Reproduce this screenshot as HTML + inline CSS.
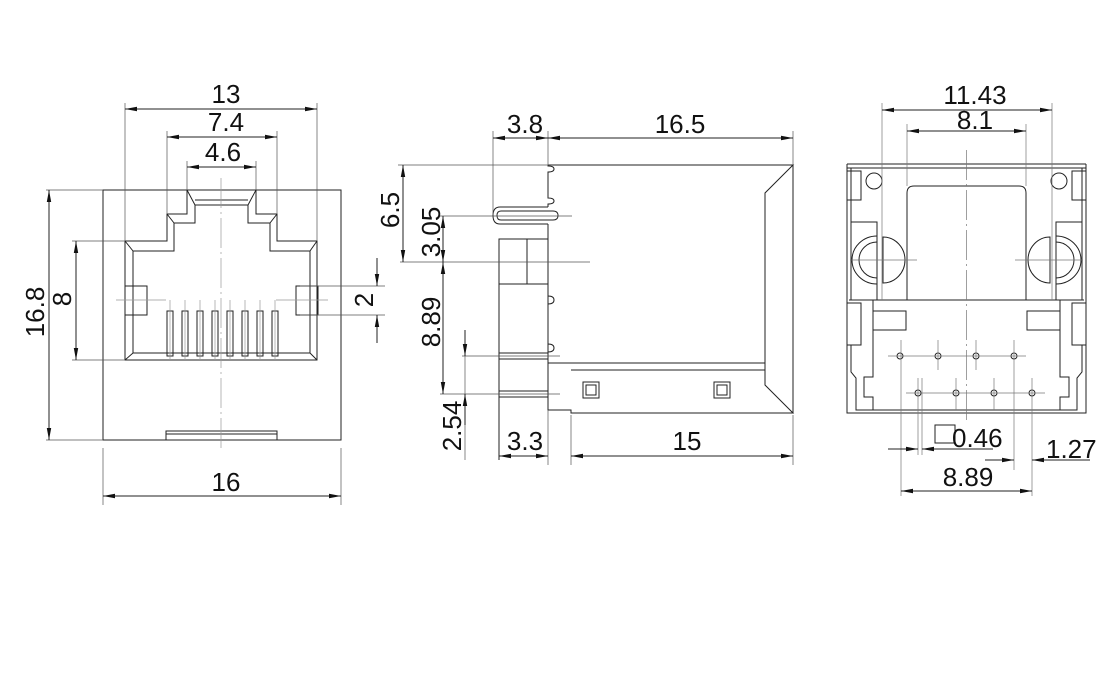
<!DOCTYPE html>
<html><head><meta charset="utf-8"><style>
html,body{margin:0;padding:0;background:#fff;}
svg{display:block;}
text{font-family:"Liberation Sans",sans-serif;font-size:26px;fill:#111;}
</style></head><body>
<svg width="1120" height="688" viewBox="0 0 1120 688" xmlns="http://www.w3.org/2000/svg">
<defs>
<marker id="a" viewBox="0 0 12 6" refX="12" refY="3" markerWidth="12" markerHeight="6" orient="auto-start-reverse" markerUnits="userSpaceOnUse"><path d="M0,0.8 L12,3 L0,5.2 z" fill="#111"/></marker>
</defs>
<g fill="none" stroke="#222" stroke-width="1">
<rect x="103" y="190" width="238" height="250"/>
<path d="M125,241 H167 V214 H187 V190 H256 V214 H277 V241 H317 V360 H125 Z"/>
<path d="M133,251 H174 V223 H195 V205 H248 V223 H270 V251 H310 V353 H133 Z"/>
<path d="M125,241 L133,251 M167,214 L174,223 M187,190 L195,205 M256,190 L248,205 M277,214 L270,223 M317,241 L310,251 M317,360 L310,353 M125,360 L133,353"/>
<path d="M195,200 H248"/>
<rect x="125" y="286" width="22" height="29"/>
<rect x="296" y="286" width="22" height="29"/>
<g>
<rect x="167" y="311" width="6" height="45"/><rect x="182" y="311" width="6" height="45"/>
<rect x="197" y="311" width="6" height="45"/><rect x="212" y="311" width="6" height="45"/>
<rect x="227" y="311" width="6" height="45"/><rect x="242" y="311" width="6" height="45"/>
<rect x="257" y="311" width="6" height="45"/><rect x="272" y="311" width="6" height="45"/>
</g>
<rect x="166" y="431" width="111" height="9"/>
<path d="M166,434 H277"/>
<g stroke="#999" stroke-width="0.7">
<path d="M221,178 V452" stroke-dasharray="30,4,2,4"/>
<path d="M116,300 H166 M276,300 H328"/>
<path d="M170,300 V360 M185,300 V360 M200,300 V360 M215,300 V360 M230,300 V360 M245,300 V360 M260,300 V360 M275,300 V360"/>
</g>
<g stroke="#555" stroke-width="0.7">
<path d="M125,103 V241 M317,103 V241 M167,131 V214 M277,131 V214 M187,161 V190 M256,161 V190"/>
<path d="M46,190 H103 M46,440 H103 M72,241 H125 M72,360 H125"/>
<path d="M300,286 H385 M300,315 H385 M103,448 V505 M341,448 V505"/>
</g>
<path d="M125,109 H317" marker-start="url(#a)" marker-end="url(#a)"/>
<path d="M167,137 H277" marker-start="url(#a)" marker-end="url(#a)"/>
<path d="M187,167 H256" marker-start="url(#a)" marker-end="url(#a)"/>
<path d="M49,190 V440" marker-start="url(#a)" marker-end="url(#a)"/>
<path d="M76,241 V360" marker-start="url(#a)" marker-end="url(#a)"/>
<path d="M377,258 V286" marker-end="url(#a)"/>
<path d="M377,343 V315" marker-end="url(#a)"/>
<path d="M103,496 H341" marker-start="url(#a)" marker-end="url(#a)"/>

<path d="M548,165 H793 L765,193 V385 L793,413 H571 V410 H548 V224"/>
<path d="M548,165 V166 Q554,166 554,169 Q554,172 548,172 V198 Q554,198 554,201 Q554,204 548,204 V207"/>
<path d="M793,165 V413 M548,363 H765 M571,370 H765"/>
<path d="M548,207 H500 Q493,207 493,215.5 Q493,224 500,224 H548"/>
<path d="M501,211 H553 Q558,211 558,215.5 Q558,220 553,220 H501 Q497,220 497,215.5 Q497,211 501,211 Z"/>
<rect x="499" y="239" width="49" height="45"/>
<path d="M527,239 V284 M499,284 V460"/>
<path d="M548,296 Q554,296 554,300 Q554,304 548,304 M548,344 Q554,344 554,348 Q554,352 548,352"/>
<rect x="499" y="353" width="49" height="6"/>
<rect x="499" y="391" width="49" height="6"/>
<rect x="583" y="382" width="16" height="16"/><rect x="586" y="385" width="10" height="10"/>
<rect x="714" y="382" width="16" height="16"/><rect x="717" y="385" width="10" height="10"/>
<g stroke="#555" stroke-width="0.7">
<path d="M493,131 V215 M548,131 V165 M793,131 V165"/>
<path d="M398,165 H548 M440,216 H572 M400,262 H590 M462,356 H560 M440,394 H560"/>
<path d="M548,410 V465 M571,415 V465 M793,415 V465"/>
<path d="M465,330 V460"/>
</g>
<path d="M493,138 H548" marker-start="url(#a)" marker-end="url(#a)"/>
<path d="M548,138 H793" marker-start="url(#a)" marker-end="url(#a)"/>
<path d="M403,165 V262" marker-start="url(#a)" marker-end="url(#a)"/>
<path d="M443,216 V262" marker-start="url(#a)" marker-end="url(#a)"/>
<path d="M443,262 V394" marker-start="url(#a)" marker-end="url(#a)"/>
<path d="M465,330 V356" marker-end="url(#a)"/>
<path d="M465,425 V394" marker-end="url(#a)"/>
<path d="M499,456 H548" marker-start="url(#a)" marker-end="url(#a)"/>
<path d="M571,456 H793" marker-start="url(#a)" marker-end="url(#a)"/>

<path d="M847,164 H1086 M847,168 H1086 M847,164 V413 H1086 V164"/>
<path d="M851,168 V222 M1082,168 V222"/>
<path d="M851,345 V372 L856,378 V410 H1077 V378 L1082,372 V345"/>
<rect x="847" y="171" width="14" height="29"/><rect x="1072" y="171" width="14" height="29"/>
<circle cx="874" cy="181" r="8"/><circle cx="1059" cy="181" r="8"/>
<path d="M907,300 V193 Q907,186 914,186 H1019 Q1026,186 1026,193 V300"/>
<rect x="851" y="222" width="26" height="78"/><rect x="1056" y="222" width="26" height="78"/>
<path d="M877,236 A25,24 0 0 0 877,284 M877,242 A18,18 0 0 0 877,278"/>
<path d="M883,237 V283 A22,23 0 0 0 883,237 Z"/>
<path d="M1056,236 A25,24 0 0 1 1056,284 M1056,242 A18,18 0 0 1 1056,278"/>
<path d="M1050,237 V283 A22,23 0 0 1 1050,237 Z"/>
<path d="M849,300 H1084"/>
<rect x="847" y="303" width="14" height="42"/><rect x="1072" y="303" width="14" height="42"/>
<path d="M873,300 V377 H864 V397 H873 V410 M1060,300 V377 H1069 V397 H1060 V410"/>
<rect x="873" y="311" width="33" height="19"/><rect x="1027" y="311" width="33" height="19"/>
<g>
<circle cx="900" cy="356" r="3"/><circle cx="938" cy="356" r="3"/><circle cx="976" cy="356" r="3"/><circle cx="1014" cy="356" r="3"/>
<circle cx="918" cy="393" r="3"/><circle cx="956" cy="393" r="3"/><circle cx="994" cy="393" r="3"/><circle cx="1032" cy="393" r="3"/>
</g>
<rect x="935" y="425" width="20" height="18"/>
<g stroke="#777" stroke-width="0.7">
<path d="M966.5,150 V420" stroke-dasharray="30,4,2,4"/>
<path d="M888,356 H1026 M906,393 H1045 M850,260 H917 M1015,260 H1083"/>
<path d="M882,103 V300 M1052,103 V300 M907,124 V186 M1026,124 V186"/>
<path d="M901,340 V496 M938,340 V370 M976,340 V370 M1014,340 V470 M918,378 V455 M922,378 V455 M956,378 V410 M994,378 V410 M1032,378 V496"/>
</g>
<path d="M882,110 H1052" marker-start="url(#a)" marker-end="url(#a)"/>
<path d="M907,131 H1026" marker-start="url(#a)" marker-end="url(#a)"/>
<path d="M888,449 H918" marker-end="url(#a)"/>
<path d="M993,449 H922" marker-end="url(#a)"/>
<path d="M985,460 H1014" marker-end="url(#a)"/>
<path d="M1090,460 H1032" marker-end="url(#a)"/>
<path d="M901,491 H1032" marker-start="url(#a)" marker-end="url(#a)"/>
</g>

<text x="226" y="103" text-anchor="middle">13</text>
<text x="226" y="131" text-anchor="middle">7.4</text>
<text x="223" y="161" text-anchor="middle">4.6</text>
<text x="226" y="491" text-anchor="middle">16</text>
<text transform="translate(44,312) rotate(-90)" text-anchor="middle">16.8</text>
<text transform="translate(71,299) rotate(-90)" text-anchor="middle">8</text>
<text transform="translate(373,300) rotate(-90)" text-anchor="middle">2</text>

<text x="525" y="133" text-anchor="middle">3.8</text>
<text x="680" y="133" text-anchor="middle">16.5</text>
<text transform="translate(399,210) rotate(-90)" text-anchor="middle">6.5</text>
<text transform="translate(440,232) rotate(-90)" text-anchor="middle">3.05</text>
<text transform="translate(440,322) rotate(-90)" text-anchor="middle">8.89</text>
<text transform="translate(461,426) rotate(-90)" text-anchor="middle">2.54</text>
<text x="525" y="450" text-anchor="middle">3.3</text>
<text x="687" y="450" text-anchor="middle">15</text>

<text x="975" y="104" text-anchor="middle">11.43</text>
<text x="975" y="129" text-anchor="middle">8.1</text>
<text x="952" y="447">0.46</text>
<text x="1046" y="458">1.27</text>
<text x="968" y="486" text-anchor="middle">8.89</text>
</svg>
</body></html>
